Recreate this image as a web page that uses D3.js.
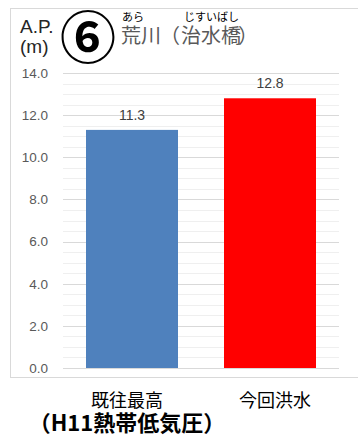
<!DOCTYPE html>
<html>
<head>
    <meta charset="utf-8">
    <title>荒川（治水橋）</title>
    <style>
        body { margin: 0; background: #fff; }
        svg { display: block; }
        .grid-minor line { stroke: #efefef; stroke-width: 1px; }
        .grid-major line { stroke: #d9d9d9; stroke-width: 1px; }
        .axis text { font: 13.5px "Liberation Sans", Arial, sans-serif; fill: #595959; }
        .val { font: 14px "Liberation Sans", Arial, sans-serif; fill: #404040; text-anchor: middle; }
        .jp { font-family: "Noto Sans CJK JP", sans-serif; }
    </style>
</head>
<body>
    <svg width="358" height="435"></svg>

    <script src="https://d3js.org/d3.v7.min.js"></script>
    <script>
        // data
        const categories = ["既往最高", "今回洪水"];
        const values = [11.3, 12.8];
        const barColors = ["#4f81bd", "#ff0000"];
        const yTicks = [0, 2, 4, 6, 8, 10, 12, 14];
        const subLabel = "（H11熱帯低気圧）";

        const svg = d3.select("svg");

        const plot = { left: 63, right: 339, top: 73, bottom: 368 };

        const y = d3.scaleLinear().domain([0, 14]).range([plot.bottom, plot.top]);
        const x = d3.scaleBand()
            .domain(categories)
            .range([plot.left, plot.right])
            .paddingInner(1 / 3)
            .paddingOuter(1 / 6);

        // outer frame (right side runs off the picture)
        svg.append("rect")
            .attr("x", 10.5).attr("y", 8.5)
            .attr("width", 360).attr("height", 369)
            .attr("fill", "none").attr("stroke", "#d9d9d9");

        // minor gridlines every 0.5
        svg.append("g").attr("class", "grid-minor")
            .selectAll("line")
            .data(y.ticks(28).filter(d => d % 2 !== 0))
            .join("line")
            .attr("x1", plot.left).attr("x2", plot.right)
            .attr("y1", d => Math.round(y(d)) + 0.5)
            .attr("y2", d => Math.round(y(d)) + 0.5);

        // major gridlines
        svg.append("g").attr("class", "grid-major")
            .selectAll("line")
            .data(yTicks)
            .join("line")
            .attr("x1", plot.left).attr("x2", plot.right)
            .attr("y1", d => Math.round(y(d)) + 0.5)
            .attr("y2", d => Math.round(y(d)) + 0.5);

        // y axis labels
        const yAxis = svg.append("g")
            .attr("class", "axis")
            .attr("transform", `translate(${plot.left},0)`)
            .call(d3.axisLeft(y).tickValues(yTicks).tickFormat(d3.format(".1f")).tickSize(0).tickPadding(15));
        yAxis.select(".domain").remove();

        // bars
        svg.selectAll(".bar")
            .data(values)
            .join("rect")
            .attr("class", "bar")
            .attr("x", (d, i) => x(categories[i]))
            .attr("y", d => y(d))
            .attr("width", x.bandwidth())
            .attr("height", d => y(0) - y(d))
            .attr("fill", (d, i) => barColors[i]);

        // value labels
        svg.selectAll(".val")
            .data(values)
            .join("text")
            .attr("class", "val")
            .attr("x", (d, i) => x(categories[i]) + x.bandwidth() / 2)
            .attr("y", d => y(d) - 10)
            .text(d => d.toFixed(1));

        // category labels (text box sits slightly off the bar centres)
        const shift = [-5, 5];
        svg.selectAll(".cat")
            .data(categories)
            .join("text")
            .attr("class", "cat jp")
            .attr("x", (d, i) => x(d) + x.bandwidth() / 2 + shift[i])
            .attr("y", 407)
            .attr("text-anchor", "middle")
            .attr("font-size", 18)
            .attr("fill", "#000")
            .text(d => d);

        svg.append("text")
            .attr("class", "jp")
            .attr("x", x(categories[0]) + x.bandwidth() / 2 + shift[0])
            .attr("y", 431)
            .attr("text-anchor", "middle")
            .attr("font-size", 22)
            .attr("font-weight", "bold")
            .attr("fill", "#000")
            .text(subLabel);

        // unit label
        const unit = svg.append("text")
            .attr("font-family", "Liberation Sans, Arial, sans-serif")
            .attr("font-size", 19)
            .attr("fill", "#262626");
        unit.append("tspan").attr("x", 20).attr("y", 33).text("A.P.");
        unit.append("tspan").attr("x", 20).attr("y", 53).text("(m)");

        // station number
        svg.append("text")
            .attr("class", "jp")
            .attr("x", 88).attr("y", 58)
            .attr("text-anchor", "middle")
            .attr("font-size", 56)
            .attr("font-weight", "bold")
            .attr("fill", "#000")
            .text("⑥");

        // station name with furigana
        const title = svg.append("text")
            .attr("class", "jp")
            .attr("font-size", 20)
            .attr("fill", "#595959")
            .attr("y", 43);
        title.append("tspan").attr("x", 121).text("荒川");
        title.append("tspan").attr("x", 160).text("（");
        title.append("tspan").attr("x", 181).text("治水橋");
        title.append("tspan").attr("x", 238).text("）");

        const ruby = svg.append("g").attr("class", "jp")
            .attr("font-size", 11).attr("fill", "#000");
        ruby.append("text").attr("x", 122).attr("y", 21).text("あら");
        ruby.append("text").attr("x", 184).attr("y", 21).text("じすいばし");
    </script>
</body>
</html>
